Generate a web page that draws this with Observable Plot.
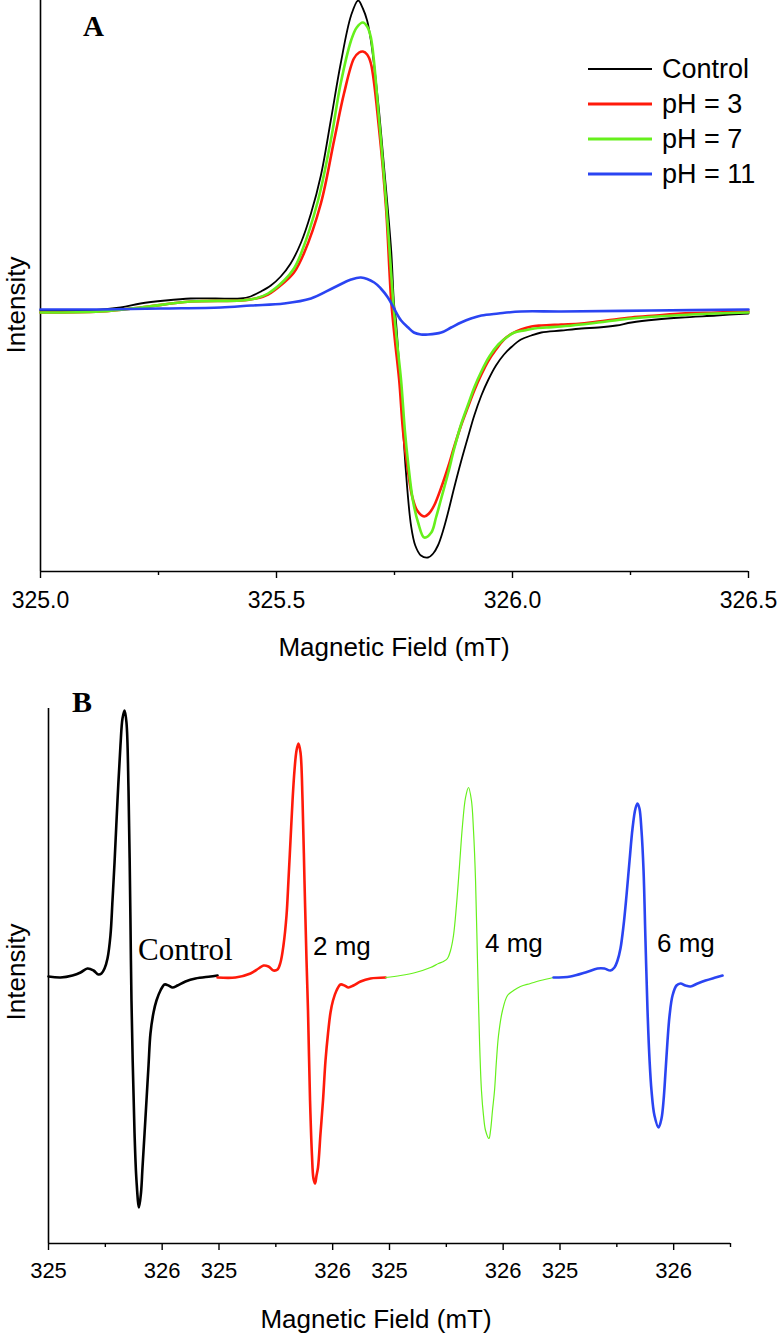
<!DOCTYPE html>
<html><head><meta charset="utf-8">
<script src="https://cdn.jsdelivr.net/npm/d3@7"></script>
<script src="https://cdn.jsdelivr.net/npm/@observablehq/plot@0.6"></script>
<style>
body{margin:0;background:#fff;}
#root{position:relative;width:777px;height:1335px;overflow:hidden;background:#fff;}
#root svg{position:absolute;left:0;}
</style></head>
<body><div id="root"></div>
<script>
// ---------- Panel A data: [field (mT), intensity (a.u.)] ----------
const aControl = [[325.000,0],[325.106,0],[325.170,3],[325.212,7],[325.265,10],[325.318,12],[325.371,12],[325.424,12],[325.445,14],[325.467,19],[325.488,25],[325.509,34],[325.530,47],[325.552,68],[325.573,97],[325.594,135],[325.615,190],[325.636,247],[325.658,295],[325.673,310],[325.683,302],[325.692,290],[325.700,270],[325.715,210],[325.728,143],[325.743,60],[325.749,7],[325.753,-10],[325.764,-85],[325.774,-160],[325.785,-215],[325.794,-235],[325.806,-245],[325.821,-247],[325.832,-243],[325.842,-235],[325.853,-220],[325.864,-201],[325.876,-178],[325.891,-151],[325.906,-126],[325.919,-105],[325.934,-85],[325.948,-70],[325.965,-55],[325.982,-44],[325.999,-36],[326.018,-29],[326.040,-25],[326.061,-22],[326.103,-20],[326.146,-18],[326.182,-17],[326.220,-15],[326.252,-12],[326.305,-9],[326.358,-7],[326.432,-5],[326.500,-3]];
const aPH3 = [[325.000,-2],[325.127,-1],[325.212,3],[325.318,9],[325.424,10],[325.456,12],[325.482,16],[325.516,28],[325.537,38],[325.558,57],[325.594,107],[325.622,170],[325.643,217],[325.664,252],[325.675,258],[325.683,259],[325.692,256],[325.700,247],[325.717,183],[325.732,103],[325.743,10],[325.751,-30],[325.760,-70],[325.768,-120],[325.777,-155],[325.787,-185],[325.798,-200],[325.813,-206],[325.823,-203],[325.834,-195],[325.849,-177],[325.864,-156],[325.876,-137],[325.891,-115],[325.906,-96],[325.919,-80],[325.934,-64],[325.948,-51],[325.965,-39],[325.982,-29],[325.999,-23],[326.018,-19],[326.040,-16],[326.061,-15],[326.103,-14],[326.146,-13],[326.199,-10],[326.252,-7],[326.305,-5],[326.358,-3],[326.432,-2],[326.500,-1]];
const aPH7 = [[325.000,-2],[325.127,-1],[325.212,3],[325.318,9],[325.424,10],[325.456,12],[325.482,17],[325.516,30],[325.537,42],[325.552,57],[325.588,110],[325.615,170],[325.636,227],[325.658,270],[325.670,283],[325.683,288],[325.692,284],[325.700,273],[325.717,193],[325.732,110],[325.747,10],[325.755,-30],[325.764,-70],[325.772,-120],[325.779,-153],[325.789,-190],[325.800,-212],[325.813,-227],[325.828,-222],[325.838,-207],[325.849,-188],[325.864,-162],[325.876,-139],[325.891,-114],[325.906,-94],[325.919,-77],[325.934,-61],[325.951,-46],[325.970,-34],[325.987,-27],[326.004,-22],[326.025,-20],[326.046,-18],[326.072,-17],[326.103,-16],[326.146,-14],[326.199,-11],[326.252,-8],[326.305,-6],[326.379,-4],[326.500,-2]];
const aPH11 = [[325.000,1],[325.127,1],[325.255,2],[325.382,3],[325.446,5],[325.516,7],[325.573,12],[325.622,23],[325.658,31],[325.679,33],[325.707,28],[325.721,22],[325.736,13],[325.749,2],[325.764,-10],[325.779,-17],[325.791,-22],[325.806,-24],[325.821,-24],[325.849,-22],[325.870,-17],[325.891,-12],[325.912,-8],[325.934,-5],[325.970,-3],[326.018,-1],[326.103,-1],[326.294,0],[326.500,1]];
const aSeriesNames = ["Control", "pH = 3", "pH = 7", "pH = 11"];
const aColors = ["#000000", "#ff1a0a", "#66f01c", "#2a44f2"];
const aMajorTicks = [325.0, 325.5, 326.0, 326.5];
const aMinorTicks = [325.25, 325.75, 326.25];
const aXDomain = [325, 326.5];
const aYDomain = [-261, 310];

// ---------- Panel B data: [field (mT), intensity (a.u.)], one array per sample ----------
const bControl = [[325.000,0],[325.106,-1],[325.211,1],[325.282,4],[325.343,8],[325.396,6],[325.440,2],[325.466,3],[325.493,8],[325.519,18],[325.545,41],[325.563,76],[325.581,114],[325.607,176],[325.633,231],[325.651,258],[325.669,266],[325.686,254],[325.704,186],[325.721,56],[325.730,-24],[325.757,-157],[325.774,-204],[325.796,-231],[325.814,-216],[325.827,-191],[325.845,-157],[325.862,-124],[325.880,-89],[325.897,-57],[325.924,-36],[325.950,-24],[325.985,-14],[326.021,-8],[326.056,-9],[326.091,-11],[326.135,-9],[326.205,-5],[326.293,-2],[326.425,0],[326.487,1]];
const b2mg = [[324.987,-1],[325.145,-1],[325.277,3],[325.348,8],[325.392,11],[325.435,10],[325.479,6],[325.515,7],[325.541,14],[325.567,31],[325.594,61],[325.611,96],[325.629,136],[325.647,176],[325.664,206],[325.682,226],[325.699,233],[325.717,224],[325.735,176],[325.752,96],[325.770,16],[325.783,-34],[325.801,-124],[325.818,-179],[325.831,-202],[325.845,-207],[325.858,-199],[325.871,-191],[325.893,-157],[325.915,-124],[325.937,-84],[325.959,-57],[325.981,-36],[326.003,-24],[326.034,-14],[326.069,-8],[326.104,-9],[326.139,-11],[326.183,-9],[326.245,-5],[326.333,-2],[326.465,-1]];
const b4mg = [[324.965,-1],[325.097,1],[325.229,4],[325.361,9],[325.431,13],[325.475,15],[325.510,18],[325.537,26],[325.563,41],[325.589,71],[325.616,111],[325.642,151],[325.669,179],[325.695,189],[325.721,176],[325.739,146],[325.757,96],[325.774,16],[325.792,-64],[325.809,-114],[325.827,-139],[325.845,-154],[325.875,-162],[325.889,-154],[325.906,-134],[325.924,-114],[325.941,-84],[325.959,-59],[325.994,-34],[326.038,-19],[326.091,-14],[326.152,-10],[326.240,-7],[326.328,-4],[326.443,-1]];
const b6mg = [[324.943,-1],[325.092,0],[325.224,4],[325.330,8],[325.391,8],[325.444,6],[325.479,9],[325.506,16],[325.532,28],[325.559,51],[325.585,81],[325.612,116],[325.638,148],[325.664,168],[325.682,173],[325.699,168],[325.717,146],[325.735,106],[325.752,36],[325.770,-34],[325.788,-84],[325.805,-114],[325.831,-139],[325.867,-151],[325.893,-142],[325.911,-124],[325.929,-94],[325.946,-64],[325.964,-39],[325.990,-19],[326.025,-9],[326.060,-7],[326.104,-9],[326.148,-10],[326.210,-7],[326.280,-4],[326.368,-1],[326.430,1]];
const bLabels = ["Control", "2 mg", "4 mg", "6 mg"];
const bColors = ["#000000", "#ff1a0a", "#66f01c", "#2a44f2"];
const bWidths = [2.6, 2.6, 1.2, 2.6];
const bFieldStart = 325, bFieldEnd = 326.5;
const bMajorFields = [325, 326];
const bMinorFields = [325.5];
const bYDomain = [-267, 268];

// ---------- build ----------
const root = document.getElementById("root");
const sans = "'Liberation Sans', Arial, sans-serif";
const serif = "'Liberation Serif', 'Times New Roman', serif";

const aData = [aControl, aPH3, aPH7, aPH11];
const plotA = Plot.plot({
  width: 777, height: 640,
  marginLeft: 40, marginRight: 29, marginTop: 0, marginBottom: 69,
  x: {domain: aXDomain},
  y: {domain: aYDomain, axis: null},
  style: {fontFamily: sans, fontSize: "23px", color: "#000", background: "transparent", overflow: "visible"},
  marks: [
    Plot.ruleX([aXDomain[0]], {stroke: "#000", strokeWidth: 1.6}),
    Plot.ruleY([aYDomain[0]], {stroke: "#000", strokeWidth: 1.6}),
    Plot.axisX({ticks: aMajorTicks, tickFormat: d3.format(".1f"), tickSize: 7, tickPadding: 13, label: null, fontSize: 23, strokeWidth: 1.4}),
    Plot.axisX({ticks: aMinorTicks, tickFormat: () => "", tickSize: 4, label: null, strokeWidth: 1.4}),
    ...aData.map((s, i) => Plot.line(s, {x: d => d[0], y: d => d[1], stroke: aColors[i], strokeWidth: i === 0 ? 1.8 : 2.6, curve: "catmull-rom"}))
  ]
});
plotA.style.top = "0px";
root.appendChild(plotA);

const bData = [bControl, b2mg, b4mg, b6mg];
const span = bFieldEnd - bFieldStart;
const nSeg = bData.length;
const bMajor = [], bMinor = [];
for (let i = 0; i < nSeg; i++) {
  bMajorFields.forEach(f => bMajor.push(f - bFieldStart + span * i));
  bMinorFields.forEach(f => bMinor.push(f - bFieldStart + span * i));
}
bMinor.push(span * nSeg);
const bFmt = v => String(Math.round(bFieldStart + (((v % span) + span) % span)));
const plotB = Plot.plot({
  width: 777, height: 695,
  marginLeft: 48, marginRight: 47, marginTop: 68, marginBottom: 92,
  x: {domain: [0, span * nSeg]},
  y: {domain: bYDomain, axis: null},
  style: {fontFamily: sans, fontSize: "22px", color: "#000", background: "transparent", overflow: "visible"},
  marks: [
    Plot.ruleX([0], {stroke: "#000", strokeWidth: 1.6}),
    Plot.ruleY([bYDomain[0]], {stroke: "#000", strokeWidth: 1.6}),
    Plot.axisX({ticks: bMajor, tickFormat: bFmt, tickSize: 7, tickPadding: 12, label: null, fontSize: 22, strokeWidth: 1.4}),
    Plot.axisX({ticks: bMinor, tickFormat: () => "", tickSize: 4, label: null, strokeWidth: 1.4}),
    ...bData.map((s, i) => Plot.line(s, {x: d => d[0] - bFieldStart + span * i, y: d => d[1], stroke: bColors[i], strokeWidth: bWidths[i], curve: "catmull-rom"}))
  ]
});
plotB.style.top = "640px";
root.appendChild(plotB);

// ---------- overlay text, legend ----------
const ov = d3.select(root).append("svg")
  .attr("width", 777).attr("height", 1335)
  .style("position", "absolute").style("top", "0px").style("left", "0px")
  .style("pointer-events", "none");

function txt(x, y, s, size, family, opts = {}) {
  const t = ov.append("text").attr("x", x).attr("y", y).text(s)
    .attr("font-size", size).attr("font-family", family).attr("fill", "#000");
  if (opts.anchor) t.attr("text-anchor", opts.anchor);
  if (opts.bold) t.attr("font-weight", "bold");
  if (opts.rotate) t.attr("transform", `rotate(-90 ${x} ${y})`);
  return t;
}

// Panel A
txt(83, 36, "A", 29, serif, {bold: true});
const legY = [69, 104, 139, 174];
aSeriesNames.forEach((n, i) => {
  ov.append("line").attr("x1", 588).attr("x2", 652).attr("y1", legY[i]).attr("y2", legY[i])
    .attr("stroke", aColors[i]).attr("stroke-width", i === 0 ? 2 : 3);
  txt(662, legY[i] + 9, n, 27, sans);
});
txt(25, 305, "Intensity", 26, sans, {anchor: "middle", rotate: true});
txt(394, 656, "Magnetic Field (mT)", 26, sans, {anchor: "middle"});

// Panel B
txt(72, 712, "B", 30, serif, {bold: true});
txt(25, 972, "Intensity", 26, sans, {anchor: "middle", rotate: true});
txt(376, 1328, "Magnetic Field (mT)", 26, sans, {anchor: "middle"});
txt(138, 960, bLabels[0], 31, serif);
txt(313, 955, bLabels[1], 26, sans);
txt(485, 952, bLabels[2], 26, sans);
txt(657, 952, bLabels[3], 26, sans);
</script>
</body></html>
